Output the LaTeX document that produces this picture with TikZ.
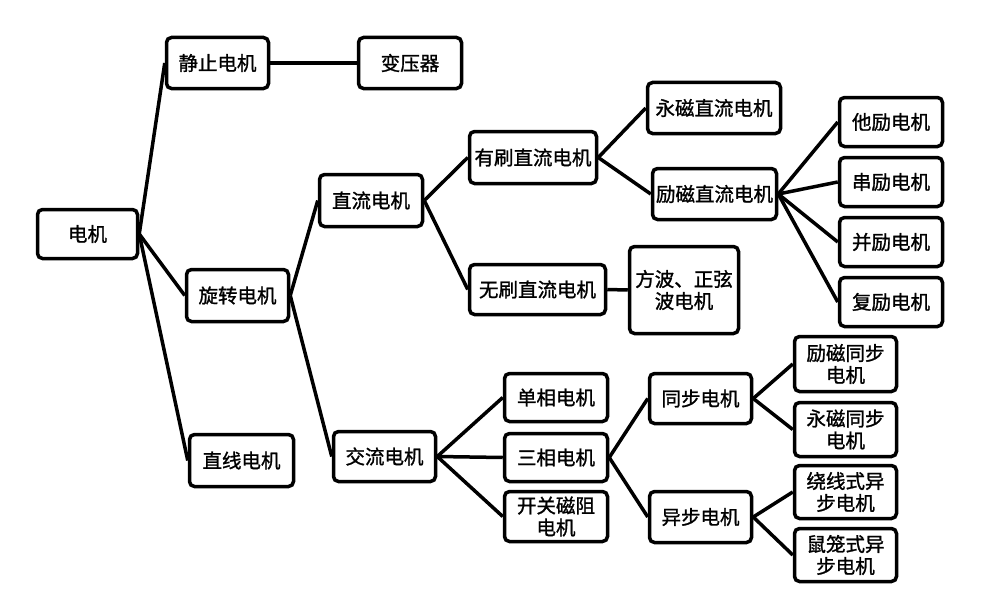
\documentclass[tikz,border=0pt]{standalone}
\usepackage{fontspec}
\newfontfamily\cjk[FakeBold=1.2]{Noto Sans CJK SC}
\begin{document}
\begin{tikzpicture}[x=1pt,y=-1pt,
  box/.style={draw=black, line width=3.5pt, rounded corners=5pt, fill=white,
    inner sep=0pt, align=center, font=\cjk\fontsize{19.5}{22}\selectfont},
  link/.style={draw=black, line width=3.5pt}]
\useasboundingbox[fill=white] (0,0) rectangle (988,602);
% level 0
\node[box, minimum width=100, minimum height=49] (dj) at (87.5,234) {电机};
% level 1
\node[box, minimum width=102, minimum height=51] (jz) at (217.5,63) {静止电机};
\node[box, minimum width=102, minimum height=52] (xz) at (237.5,295.5) {旋转电机};
\node[box, minimum width=104, minimum height=52] (zx) at (241.5,460.5) {直线电机};
\node[box, minimum width=103, minimum height=51] (byq) at (410,63) {变压器};
% level 2
\node[box, minimum width=103, minimum height=52] (zl) at (371,200.5) {直流电机};
\node[box, minimum width=102, minimum height=50] (jl) at (384.5,456.5) {交流电机};
% DC branch
\node[box, minimum width=127, minimum height=52] (ys) at (533,157.5) {有刷直流电机};
\node[box, minimum width=136, minimum height=50] (ws) at (537.5,289.5) {无刷直流电机};
\node[box, minimum width=109, minimum height=87] (fb) at (684,290) {方波、正弦\\波电机};
\node[box, minimum width=133, minimum height=51] (ycz) at (714,108) {永磁直流电机};
\node[box, minimum width=124, minimum height=51] (lcz) at (714.5,194) {励磁直流电机};
\node[box, minimum width=103, minimum height=49] (tl) at (891,122) {他励电机};
\node[box, minimum width=103, minimum height=49] (cl) at (891,182) {串励电机};
\node[box, minimum width=103, minimum height=49] (bl) at (891,242) {并励电机};
\node[box, minimum width=103, minimum height=49] (fl) at (891,302) {复励电机};
% AC branch
\node[box, minimum width=103, minimum height=48] (dx) at (556,397.5) {单相电机};
\node[box, minimum width=103, minimum height=48] (sx) at (556,457.5) {三相电机};
\node[box, minimum width=103, minimum height=50] (kg) at (556,516.5) {开关磁阻\\电机};
\node[box, minimum width=102, minimum height=50] (tb) at (700.5,398.5) {同步电机};
\node[box, minimum width=102, minimum height=51] (yb) at (700.5,517) {异步电机};
\node[box, minimum width=102, minimum height=55] (lctb) at (845.5,364) {励磁同步\\电机};
\node[box, minimum width=102, minimum height=54] (yctb) at (845.5,429.5) {永磁同步\\电机};
\node[box, minimum width=102, minimum height=53] (rx) at (845.5,492) {绕线式异\\步电机};
\node[box, minimum width=102, minimum height=53] (sl) at (845.5,555) {鼠笼式异\\步电机};
% connectors
\draw[link] (dj.east) -- (jz.west);
\draw[link] (dj.east) -- (xz.west);
\draw[link] (dj.east) -- (zx.west);
\draw[link] (jz.east) -- (byq.west);
\draw[link] (xz.east) -- (zl.west);
\draw[link] (xz.east) -- (jl.west);
\draw[link] (zl.east) -- (ys.west);
\draw[link] (zl.east) -- (ws.west);
\draw[link] (ws.east) -- (fb.west);
\draw[link] (ys.east) -- (ycz.west);
\draw[link] (ys.east) -- (lcz.west);
\draw[link] (lcz.east) -- (tl.west);
\draw[link] (lcz.east) -- (cl.west);
\draw[link] (lcz.east) -- (bl.west);
\draw[link] (lcz.east) -- (fl.west);
\draw[link] (jl.east) -- (dx.west);
\draw[link] (jl.east) -- (sx.west);
\draw[link] (jl.east) -- (kg.west);
\draw[link] (sx.east) -- (tb.west);
\draw[link] (sx.east) -- (yb.west);
\draw[link] (tb.east) -- (lctb.west);
\draw[link] (tb.east) -- (yctb.west);
\draw[link] (yb.east) -- (rx.west);
\draw[link] (yb.east) -- (sl.west);
\end{tikzpicture}
\end{document}
